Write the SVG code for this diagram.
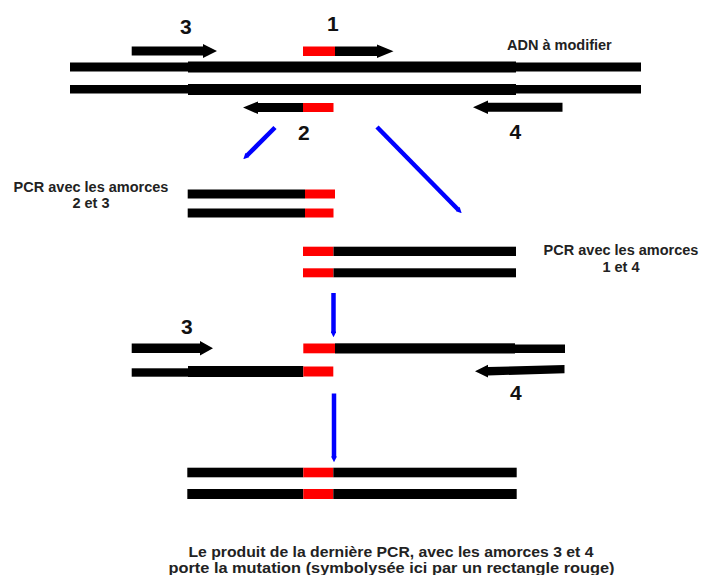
<svg xmlns="http://www.w3.org/2000/svg" width="702" height="575" viewBox="0 0 702 575">
<style>
.k{fill:#000}
.r{fill:#ff0000}
.t{font-family:"Liberation Sans",Arial,sans-serif;font-weight:bold;fill:#222}
.num{font-family:"Liberation Sans",Arial,sans-serif;font-weight:bold;font-size:21px;fill:#111}
.lbl{font-size:14.5px}
.cap{font-size:15.5px}
.c{stroke:#0000ff;stroke-width:4.5;fill:none}
</style>
<defs>
<marker id="tip" viewBox="0 0 10 10" refX="1" refY="5" markerWidth="1.3" markerHeight="1.3" orient="auto" markerUnits="strokeWidth">
<path d="M0,0 L10,5 L0,10 Z" fill="#0000ff"/>
</marker>
</defs>
<rect width="702" height="575" fill="#fff"/>

<g id="adn">
<rect class="k" x="70" y="62.5" width="118" height="9"/>
<rect class="k" x="188" y="61.5" width="328" height="11"/>
<rect class="k" x="516" y="62.5" width="125" height="9"/>
<rect class="k" x="70" y="85" width="118" height="8.5"/>
<rect class="k" x="188" y="84" width="328" height="11"/>
<rect class="k" x="516" y="85" width="125" height="8.5"/>
<text class="t lbl" x="507" y="50">ADN à modifier</text>
</g>

<g id="amorce3">
<polygon class="k" points="131.7,46.5 203,46.5 203,44 217,51 203,58 203,55.5 131.7,55.5"/>
<text class="num" x="180" y="33.5">3</text>
</g>
<g id="amorce1">
<rect class="r" x="303" y="46.5" width="32" height="9.5"/>
<polygon class="k" points="335,46.5 377,46.5 377,44.5 393.5,51.2 377,58 377,56 335,56"/>
<text class="num" x="327" y="31">1</text>
</g>
<g id="amorce2">
<rect class="r" x="303" y="103" width="30.5" height="9"/>
<polygon class="k" points="303,103 258,103 258,101.5 243,107.5 258,114 258,112 303,112"/>
<text class="num" x="298" y="140">2</text>
</g>
<g id="amorce4">
<polygon class="k" points="562.5,102.7 488,102.7 488,100.5 473,107.2 488,114 488,111.7 562.5,111.7"/>
<text class="num" x="509.5" y="138.5">4</text>
</g>

<g id="pcr23">
<rect class="k" x="187.7" y="189.5" width="117.3" height="9"/>
<rect class="r" x="305" y="189.5" width="30" height="9"/>
<rect class="k" x="187.7" y="208.5" width="117.3" height="9"/>
<rect class="r" x="305" y="208.5" width="28.5" height="9"/>
<text class="t lbl" text-anchor="middle" x="91" y="191.5">PCR avec les amorces</text>
<text class="t lbl" text-anchor="middle" x="91" y="207.5">2 et 3</text>
</g>

<g id="pcr14">
<rect class="r" x="303" y="246.7" width="30.5" height="9.3"/>
<rect class="k" x="333.5" y="246.7" width="182.5" height="9.3"/>
<rect class="r" x="303" y="268.3" width="30.5" height="9"/>
<rect class="k" x="333.5" y="268.3" width="182.5" height="9"/>
<text class="t lbl" text-anchor="middle" x="621" y="254.5">PCR avec les amorces</text>
<text class="t lbl" text-anchor="middle" x="621" y="271.5">1 et 4</text>
</g>

<g id="hybride">
<polygon class="k" points="131.7,343.5 200,343.5 200,341 213,348.3 200,355.5 200,353 131.7,353"/>
<text class="num" x="181" y="333.5">3</text>
<rect class="r" x="303.3" y="343.5" width="31.7" height="9.8"/>
<rect class="k" x="335" y="343.3" width="180" height="10.2"/>
<rect class="k" x="515" y="344.5" width="50" height="8.5"/>
<rect class="k" x="131.7" y="368.3" width="56.3" height="8.4"/>
<rect class="k" x="188" y="366" width="115.3" height="11"/>
<rect class="r" x="303.3" y="366.5" width="30" height="10"/>
<polygon class="k" points="564.5,365 488,367 488,364.8 475,371.3 488,377.5 488,375.5 564.5,373.3"/>
<text class="num" x="510" y="400">4</text>
</g>

<g id="produit">
<rect class="k" x="187.3" y="467.7" width="116" height="9.6"/>
<rect class="r" x="303.3" y="467.7" width="30" height="9.6"/>
<rect class="k" x="333.3" y="467.7" width="183.4" height="9.6"/>
<rect class="k" x="187.3" y="489" width="116" height="10"/>
<rect class="r" x="303.3" y="489" width="30" height="10"/>
<rect class="k" x="333.3" y="489" width="183.4" height="10"/>
<text class="t cap" text-anchor="middle" x="391" y="557" textLength="405" lengthAdjust="spacingAndGlyphs">Le produit de la dernière PCR, avec les amorces 3 et 4</text>
<text class="t cap" text-anchor="middle" x="391.5" y="572.5" textLength="446" lengthAdjust="spacingAndGlyphs">porte la mutation (symbolysée ici par un rectangle rouge)</text>
</g>

<g id="connecteurs">
<line class="c" x1="275" y1="127.5" x2="247" y2="155.5" marker-end="url(#tip)"/>
<line class="c" x1="377" y1="127" x2="458" y2="209.5" marker-end="url(#tip)"/>
<line class="c" x1="333.5" y1="293" x2="333.5" y2="332" marker-end="url(#tip)"/>
<line class="c" x1="334" y1="393.5" x2="334" y2="457" marker-end="url(#tip)"/>
</g>
</svg>
